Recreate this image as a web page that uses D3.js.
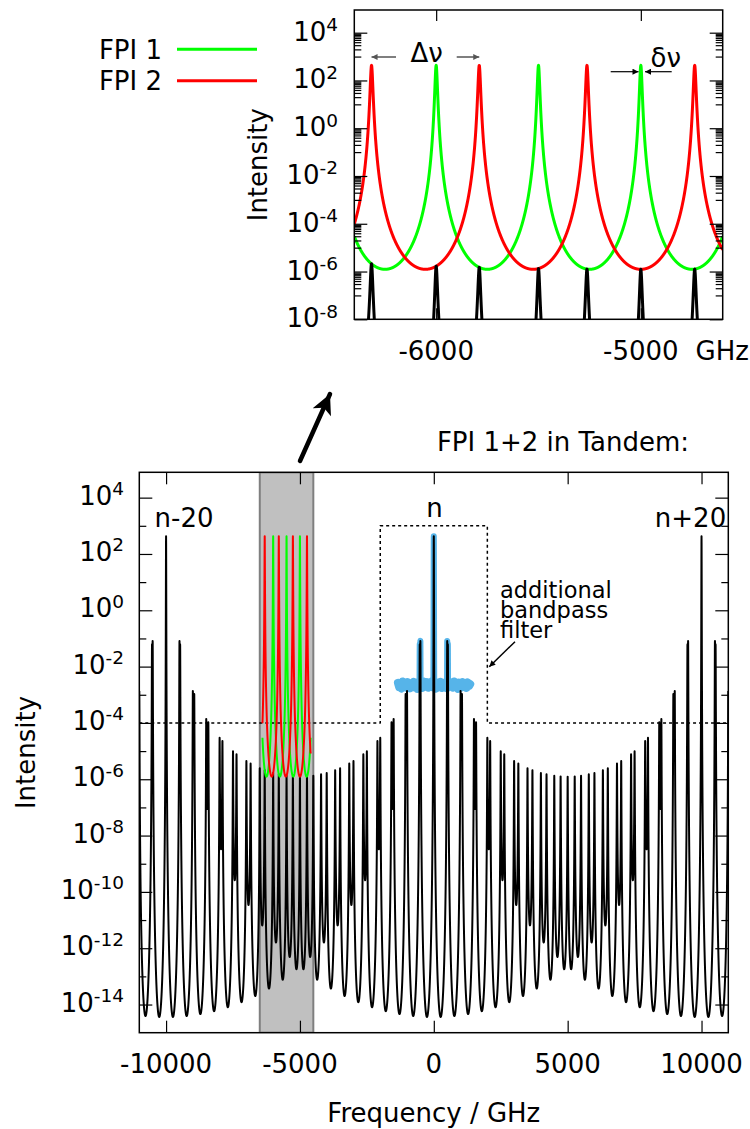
<!DOCTYPE html>
<html>
<head>
<meta charset="utf-8">
<script src="https://cdn.jsdelivr.net/npm/d3@7"></script>
<style>
body { margin:0; background:#fff; }
svg { display:block; font-family:"DejaVu Sans", sans-serif; }
.frame { fill:none; stroke:#000; stroke-width:1.5px; }
.tick line { stroke:#000; stroke-width:1.2px; }
.lbl { font-size:26px; fill:#000; }
.curve { fill:none; stroke-linejoin:round; }
</style>
</head>
<body>
<svg width="750" height="1129"></svg>
<script>

// instrument values
var fsr = [500, 10000 / 19];        // free spectral range of FPI 1 and FPI 2 (GHz)
var finesseCoef = 700;              // coefficient of finesse of each FPI
var passes = 3;                     // passes through each FPI
var peakLog = 2.63;                 // log10 of the transmitted peak

var fpiNames = ["FPI 1", "FPI 2"];
var fpiColors = ["#00ff00", "#ff0000"];

var zoomRange = [-6400, -4600];     // GHz shown in the inset
var shadeRange = [-6500, -4500];    // grey band in the main plot
var filterEdges = [-2000, 2000];    // bandpass filter edges (GHz)
var filterLevels = [1e-4, 1e3];     // outside / inside the filter

// measured noise floor around order n (log10 intensity)
var noiseRange = [-1340, 1360];
var noiseLog = [-2.58,-2.73,-2.62,-2.78,-2.53,-2.69,-2.60,-2.75,-2.55,-2.66,
                -2.77,-2.58,-2.71,-2.54,-2.74,-2.63,-2.79,-2.56,-2.68,-2.61,
                -2.76,-2.53,-2.71,-2.64,-2.55,-2.75,-2.60,-2.70,-2.52,-2.74,
                -2.62,-2.78,-2.57,-2.66,-2.73,-2.54,-2.76,-2.61,-2.69,-2.56,
                -2.77,-2.63,-2.55,-2.71,-2.60,-2.75,-2.53,-2.70,-2.62,-2.79,
                -2.57,-2.65,-2.74,-2.55,-2.68,-2.60,-2.76,-2.56,-2.69,-2.62];

var mainTicksX = [-10000, -5000, 0, 5000, 10000];
var insetTicksX = [-6000, -5000];
var mainExps = [4, 2, 0, -2, -4, -6, -8, -10, -12, -14];
var mainMinorExps = [3, 1, -1, -3, -5, -7, -9, -11, -13];
var insetExps = [4, 2, 0, -2, -4, -6, -8];
var orderNu = [-10000, 0, 10000];
var orderNames = ["n-20", "n", "n+20"];

var svg = d3.select("svg");

function airy(nu, f) {
	var s = Math.sin(Math.PI * nu / f);
	return Math.pow(1 / (1 + finesseCoef * s * s), passes);
}
function single(nu, i) { return Math.pow(10, peakLog) * airy(nu, fsr[i]); }
function tandem(nu) { return Math.pow(10, peakLog) * airy(nu, fsr[0]) * airy(nu, fsr[1]); }

// frequency grid, with the exact peak centres of both FPIs added
function grid(lo, hi, step) {
	var pts = d3.range(lo, hi + step / 2, step);
	fsr.forEach(function(f) {
		for (var k = Math.ceil(lo / f); k * f <= hi; k++) pts.push(k * f);
	});
	return pts.sort(function(a, b) { return a - b; });
}

// ---------- scales ----------
var xI = d3.scaleLinear().domain(zoomRange).range([354.3, 722.7]);
var yI = d3.scaleLog().domain([1e-8, Math.pow(10, 4.95)]).range([319.3, 10]);
var xM = d3.scaleLinear().domain([-11000, 11000]).range([139.3, 728.3]);
var yM = d3.scaleLog().domain([1e-15, Math.pow(10, 4.9)]).range([1032.7, 472.3]);

var defs = svg.append("defs");
defs.append("clipPath").attr("id", "clipI").append("rect")
	.attr("x", 354.3).attr("y", 10).attr("width", 722.7 - 354.3).attr("height", 319.3 - 10);
defs.append("clipPath").attr("id", "clipM").append("rect")
	.attr("x", 139.3).attr("y", 472.3).attr("width", 728.3 - 139.3).attr("height", 1032.7 - 472.3);

function addHead(id, w, h, color, notch) {
	defs.append("marker").attr("id", id)
		.attr("viewBox", "0 0 10 10").attr("refX", 10).attr("refY", 5)
		.attr("markerWidth", w).attr("markerHeight", h)
		.attr("markerUnits", "userSpaceOnUse").attr("orient", "auto")
		.append("path").attr("d", notch ? "M0,0 L10,5 L0,10 L2.5,5 z" : "M0,0 L10,5 L0,10 z")
		.attr("fill", color);
}
addHead("headBig", 22, 20, "#000", true);
addHead("headGray", 9, 6, "#555", false);
addHead("headBlk", 9, 6, "#000", false);

function lineFor(x, y) {
	return d3.line()
		.x(function(d) { return x(d[0]); })
		.y(function(d) { return y(Math.max(d[1], 1e-40)); });
}

// ---------- inset ----------
var gI = svg.append("g");
var lineI = lineFor(xI, yI);
var nuI = grid(zoomRange[0], zoomRange[1], 0.5);
var plotI = gI.append("g").attr("clip-path", "url(#clipI)");

fpiColors.forEach(function(c, i) {
	plotI.append("path").attr("class", "curve")
		.attr("d", lineI(nuI.map(function(v) { return [v, single(v, i)]; })))
		.attr("stroke", c).attr("stroke-width", 3);
});
plotI.append("path").attr("class", "curve")
	.attr("d", lineI(nuI.map(function(v) { return [v, tandem(v)]; })))
	.attr("stroke", "#000").attr("stroke-width", 3);

// inset ticks
function insetMinors() {
	var out = [];
	insetExps.forEach(function(e) {
		for (var m = 1; m <= 9; m++) {
			var v = m * Math.pow(10, e - 1);
			if (v > yI.domain()[0]) out.push(v);
		}
	});
	return out;
}
[[d3.axisLeft, 354.3], [d3.axisRight, 722.7]].forEach(function(a) {
	gI.append("g").attr("transform", "translate(" + a[1] + ",0)")
		.call(a[0](yI).tickValues(insetExps.map(function(e) { return Math.pow(10, e); })).tickSize(-13).tickFormat(""))
		.call(function(g) { g.select(".domain").remove(); });
	gI.append("g").attr("transform", "translate(" + a[1] + ",0)")
		.call(a[0](yI).tickValues(insetMinors()).tickSize(-7).tickFormat(""))
		.call(function(g) { g.select(".domain").remove(); });
});
[[d3.axisTop, 10], [d3.axisBottom, 319.3]].forEach(function(a) {
	gI.append("g").attr("transform", "translate(0," + a[1] + ")")
		.call(a[0](xI).tickValues(insetTicksX).tickSize(-11).tickFormat(""))
		.call(function(g) { g.select(".domain").remove(); });
});
gI.append("rect").attr("class", "frame")
	.attr("x", 354.3).attr("y", 10).attr("width", 722.7 - 354.3).attr("height", 319.3 - 10);

function expLabel(g, x, y, e) {
	var t = g.append("text").attr("class", "lbl").attr("x", x).attr("y", y).attr("text-anchor", "end");
	t.append("tspan").text("10");
	t.append("tspan").attr("dy", -9.5).attr("font-size", "18.5px").text(e);
}
insetExps.forEach(function(e) { expLabel(gI, 338, yI(Math.pow(10, e)) + 8, e); });
insetTicksX.forEach(function(v) {
	gI.append("text").attr("class", "lbl").attr("x", xI(v)).attr("y", 360)
		.attr("text-anchor", "middle").text(v);
});
gI.append("text").attr("class", "lbl").attr("x", 695.5).attr("y", 360).text("GHz");
gI.append("text").attr("class", "lbl")
	.attr("transform", "translate(266.5,164.7) rotate(-90)")
	.attr("text-anchor", "middle").text("Intensity");

// legend
fpiNames.forEach(function(n, i) {
	var yy = [49.3, 80.7][i];
	gI.append("text").attr("class", "lbl").attr("x", 162).attr("y", yy + 9.5)
		.attr("text-anchor", "end").text(n);
	gI.append("line").attr("x1", 177).attr("x2", 257).attr("y1", yy).attr("y2", yy)
		.attr("stroke", fpiColors[i]).attr("stroke-width", 3);
});

// delta-nu annotations
gI.append("text").attr("class", "lbl").attr("x", 426.7).attr("y", 61.7)
	.attr("text-anchor", "middle").text("\u0394\u03bd");
gI.append("line").attr("x1", 396).attr("y1", 57).attr("x2", xI(-12 * fsr[1])).attr("y2", 57)
	.attr("stroke", "#555").attr("stroke-width", 1.5).attr("marker-end", "url(#headGray)");
gI.append("line").attr("x1", 456.7).attr("y1", 57).attr("x2", xI(-11 * fsr[1])).attr("y2", 57)
	.attr("stroke", "#555").attr("stroke-width", 1.5).attr("marker-end", "url(#headGray)");
gI.append("text").attr("class", "lbl").attr("x", 665.7).attr("y", 66.7)
	.attr("text-anchor", "middle").text("\u03b4\u03bd");
gI.append("line").attr("x1", 610.7).attr("y1", 71.7).attr("x2", 638.5).attr("y2", 71.7)
	.attr("stroke", "#000").attr("stroke-width", 1.2).attr("marker-end", "url(#headBlk)");
gI.append("line").attr("x1", 671.7).attr("y1", 71.7).attr("x2", 645).attr("y2", 71.7)
	.attr("stroke", "#000").attr("stroke-width", 1.2).attr("marker-end", "url(#headBlk)");

// big arrow from the grey band up to the inset
svg.append("line").attr("x1", 300).attr("y1", 461).attr("x2", 330).attr("y2", 394)
	.attr("stroke", "#000").attr("stroke-width", 4.5).attr("stroke-linecap", "round")
	.attr("marker-end", "url(#headBig)");

// ---------- main plot ----------
var gM = svg.append("g");
var lineM = lineFor(xM, yM);
var plotM = gM.append("g").attr("clip-path", "url(#clipM)");

plotM.append("rect")
	.attr("x", xM(shadeRange[0])).attr("y", 472.3)
	.attr("width", xM(shadeRange[1]) - xM(shadeRange[0])).attr("height", 1032.7 - 472.3)
	.attr("fill", "#c0c0c0").attr("stroke", "#7f7f7f").attr("stroke-width", 2);

plotM.append("path").attr("class", "curve")
	.attr("d", "M" + xM(-11000) + "," + yM(filterLevels[0]) +
		"H" + xM(filterEdges[0]) + "V" + yM(filterLevels[1]) +
		"H" + xM(filterEdges[1]) + "V" + yM(filterLevels[0]) + "H" + xM(11000))
	.attr("stroke", "#000").attr("stroke-width", 1.5).attr("stroke-dasharray", "3,3");

// measured spectrum around order n (light blue)
var blue = "#56b4e9";
var floorV = Math.pow(10, d3.mean(noiseLog));
var nuB = grid(noiseRange[0], noiseRange[1], 1);
plotM.append("path").attr("class", "curve")
	.attr("d", lineM(nuB.map(function(v) { return [v, Math.max(tandem(v), floorV)]; })))
	.attr("stroke", blue).attr("stroke-width", 6).attr("stroke-linecap", "round");
var noiseStep = (noiseRange[1] - noiseRange[0]) / (noiseLog.length - 1);
plotM.append("path").attr("class", "curve")
	.attr("d", lineM(noiseLog.map(function(l, i) { return [noiseRange[0] + i * noiseStep, Math.pow(10, l)]; })))
	.attr("stroke", blue).attr("stroke-width", 8).attr("stroke-linecap", "round");

var nuM = grid(-11000, 11000, 2);
plotM.append("path").attr("class", "curve")
	.attr("d", lineM(nuM.map(function(v) { return [v, tandem(v)]; })))
	.attr("stroke", "#000").attr("stroke-width", 2);

fpiColors.forEach(function(c, i) {
	plotM.append("path").attr("class", "curve")
		.attr("d", lineM(nuI.map(function(v) { return [v, single(v, i)]; })))
		.attr("stroke", c).attr("stroke-width", 2);
});

// main ticks
[[d3.axisLeft, 139.3], [d3.axisRight, 728.3]].forEach(function(a) {
	gM.append("g").attr("transform", "translate(" + a[1] + ",0)")
		.call(a[0](yM).tickValues(mainExps.map(function(e) { return Math.pow(10, e); })).tickSize(-13).tickFormat(""))
		.call(function(g) { g.select(".domain").remove(); });
	gM.append("g").attr("transform", "translate(" + a[1] + ",0)")
		.call(a[0](yM).tickValues(mainMinorExps.map(function(e) { return Math.pow(10, e); })).tickSize(-7).tickFormat(""))
		.call(function(g) { g.select(".domain").remove(); });
});
[[d3.axisTop, 472.3], [d3.axisBottom, 1032.7]].forEach(function(a) {
	gM.append("g").attr("transform", "translate(0," + a[1] + ")")
		.call(a[0](xM).tickValues(mainTicksX).tickSize(-12).tickFormat(""))
		.call(function(g) { g.select(".domain").remove(); });
});
gM.append("rect").attr("class", "frame")
	.attr("x", 139.3).attr("y", 472.3).attr("width", 728.3 - 139.3).attr("height", 1032.7 - 472.3);

mainExps.forEach(function(e) { expLabel(gM, 124, yM(Math.pow(10, e)) + 7, e); });
mainTicksX.forEach(function(v) {
	gM.append("text").attr("class", "lbl").attr("x", xM(v)).attr("y", 1073)
		.attr("text-anchor", "middle").text(v);
});
gM.append("text").attr("class", "lbl").attr("x", 433.8).attr("y", 1122)
	.attr("text-anchor", "middle").text("Frequency / GHz");
gM.append("text").attr("class", "lbl")
	.attr("transform", "translate(35,752.5) rotate(-90)")
	.attr("text-anchor", "middle").text("Intensity");

gM.append("text").attr("class", "lbl").attr("x", 563).attr("y", 450.5)
	.attr("text-anchor", "middle").text("FPI 1+2 in Tandem:");
orderNames.forEach(function(n, i) {
	gM.append("text").attr("class", "lbl")
		.attr("x", xM(orderNu[i]) + [18, 0.7, -11][i]).attr("y", i === 1 ? 517.3 : 526.7)
		.attr("text-anchor", "middle").text(n);
});

var filt = gM.append("text").style("font-size", "22.5px");
["additional", "bandpass", "filter"].forEach(function(s, i) {
	filt.append("tspan").attr("x", 500).attr("y", [598, 617.5, 637.5][i]).text(s);
});
gM.append("line").attr("x1", 515).attr("y1", 641.7).attr("x2", 489.3).attr("y2", 666.7)
	.attr("stroke", "#000").attr("stroke-width", 1.5).attr("marker-end", "url(#headBlk)");

</script>
</body>
</html>
